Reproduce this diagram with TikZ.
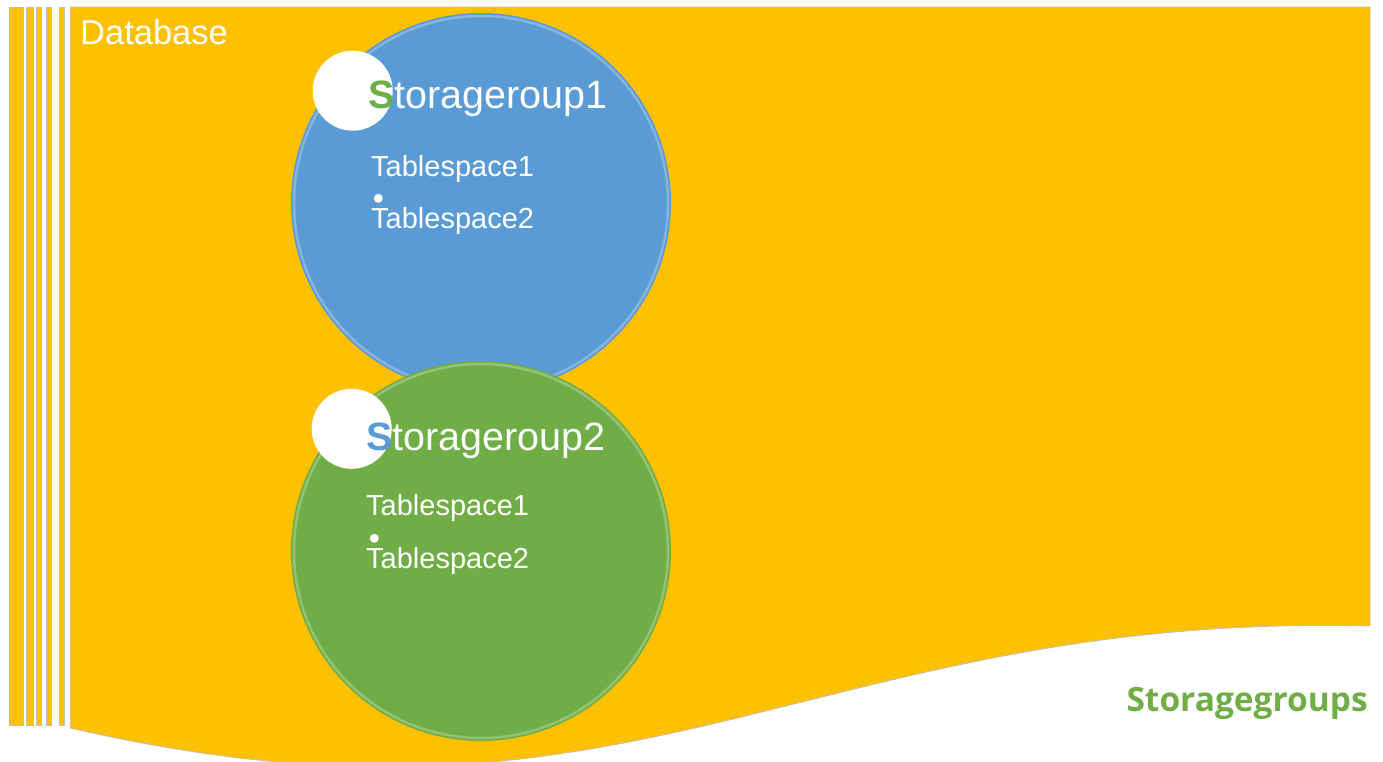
\documentclass[tikz,border=0pt]{standalone}
\usepackage{fontspec}
\setmainfont{Liberation Sans}
\newfontfamily\opensans{Open Sans}
\definecolor{dbgold}{HTML}{FFC000}
\definecolor{sgblue}{HTML}{5B9BD5}
\definecolor{sggreen}{HTML}{70AD47}
\definecolor{edgegray}{HTML}{BDBDBD}
\tikzset{
  stripe/.style={fill=dbgold, draw=edgegray, line width=0.8pt},
  sgcircle/.style={circle, minimum size=380pt, inner sep=0pt},
  dot/.style={circle, fill=white, minimum size=80pt, inner sep=0pt},
  bullet/.style={circle, fill=white, minimum size=9pt, inner sep=0pt},
  title/.style={anchor=base west, inner sep=0pt, text=white, font=\fontsize{39.5}{41}\selectfont},
  item/.style={anchor=base west, inner sep=0pt, text=white, font=\fontsize{29}{30}\selectfont},
  rim/.style={draw=white, draw opacity=0.25, line width=2.5pt}
}
\begin{document}
\begin{tikzpicture}[x=1pt,y=-1pt]
\useasboundingbox (0,0) rectangle (1383,762);
% stripes
\draw[stripe] (9,7) rectangle (23.3,725);
\draw[stripe] (26.3,7) rectangle (33.3,725);
\draw[stripe] (36.3,7) rectangle (41.7,725);
\draw[stripe] (46.3,7) rectangle (51.7,725);
\draw[stripe] (59.3,7) rectangle (64.7,725);
% main database shape
\draw[stripe] (70.3,7) -- (1370,7) -- (1370,626)
  .. controls (810,612) and (640,860) .. (70.3,728) -- cycle;
\node[anchor=base west, inner sep=0pt, text=white, font=\fontsize{34.5}{36}\selectfont] (db) at (80,45) {Database};
% storage group 1
\node[sgcircle, fill=sgblue] (sg1) at (481,203) {};
\draw[rim] (sg1.center) circle[radius=187];
\node[dot] (d1) at (352.7,90.7) {};
\node[title] (t1) at (368,108.3) {\textcolor{sggreen}{\bfseries S}torageroup1};
\node[item] (ts11) at (371,176.7) {Tablespace1};
\node[bullet] (b1) at (378.3,198.3) {};
\node[item] (ts12) at (371,228.3) {Tablespace2};
% storage group 2
\node[sgcircle, fill=sggreen] (sg2) at (481,551) {};
\draw[rim] (sg2.center) circle[radius=187];
\node[dot] (d2) at (351.7,428.8) {};
\node[title] (t2) at (366,450.7) {\textcolor{sgblue}{\bfseries S}torageroup2};
\node[item] (ts21) at (366,515) {Tablespace1};
\node[bullet] (b2) at (374.3,538.3) {};
\node[item] (ts22) at (366,568.3) {Tablespace2};
% label
\node[anchor=base east, inner sep=0pt, text=sggreen, font=\opensans\bfseries\fontsize{33.5}{35}\selectfont] (lbl) at (1368,711.7) {Storagegroups};
\end{tikzpicture}
\end{document}
